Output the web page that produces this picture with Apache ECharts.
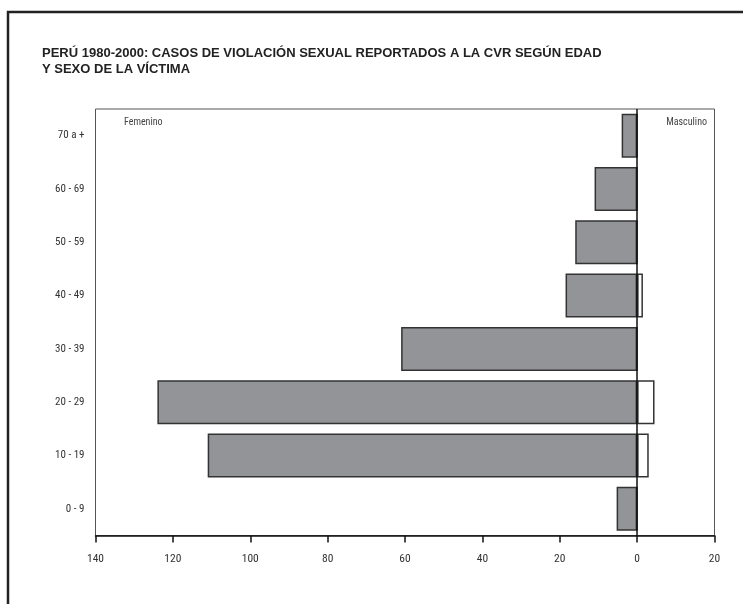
<!DOCTYPE html>
<html>
<head>
<meta charset="utf-8">
<script src="https://cdn.jsdelivr.net/npm/echarts@6/dist/echarts.min.js"></script>
<style>
html,body{margin:0;padding:0;background:#fff;}
#chart{width:743px;height:604px;}
</style>
</head>
<body>
<div id="chart"></div>
<script>
const categories = ['0 - 9', '10 - 19', '20 - 29', '30 - 39', '40 - 49', '50 - 59', '60 - 69', '70 a +'];
const femenino = [5.3, 111, 124, 61, 18.5, 16, 11, 4];
const masculino = [0, 3, 4.5, 0, 1.5, 0, 0, 0];
const xTicks = { min: -140, max: 20, interval: 20 };

const NARROW = '"Liberation Sans Narrow", "Arial Narrow", "Roboto Condensed", sans-serif';
const WIDE = '"Liberation Sans", Arial, sans-serif';
const chart = echarts.init(document.getElementById('chart'));
chart.setOption({
  animation: false,
  backgroundColor: '#fff',
  title: {
    text: 'PERÚ 1980-2000: CASOS DE VIOLACIÓN SEXUAL REPORTADOS A LA CVR SEGÚN EDAD\nY SEXO DE LA VÍCTIMA',
    left: 37, top: 40,
    textStyle: { fontFamily: WIDE, fontWeight: 'bold', fontSize: 13, color: '#222', lineHeight: 16 }
  },
  graphic: [
    { type: 'polyline', shape: { points: [[8, 604], [8, 12], [743, 12]] }, style: { stroke: '#222', lineWidth: 2.5, fill: null } },
    { type: 'text', left: 124, top: 117, style: { text: 'Femenino', fontFamily: NARROW, fontSize: 10, fill: '#444' } },
    { type: 'text', right: 36, top: 117, style: { text: 'Masculino', fontFamily: NARROW, fontSize: 10, fill: '#444' } }
  ],
  grid: { left: 95.5, right: 28.5, top: 109, bottom: 68.5, show: true, borderColor: '#555', borderWidth: 1 },
  xAxis: {
    type: 'value', min: xTicks.min, max: xTicks.max, interval: xTicks.interval,
    splitLine: { show: false },
    axisLine: { show: true, lineStyle: { color: '#111', width: 1.5 } },
    axisTick: { show: true, length: 7, lineStyle: { color: '#111', width: 1.5 } },
    axisLabel: { margin: 18, fontFamily: NARROW, fontSize: 11.5, color: '#333', formatter: v => Math.abs(v) }
  },
  yAxis: {
    type: 'category', data: categories,
    axisLine: { show: false }, axisTick: { show: false },
    axisLabel: { margin: 11, fontFamily: NARROW, fontSize: 11, color: '#333' }
  },
  series: [
    {
      name: 'Femenino', type: 'bar', data: femenino.map(v => -v), barWidth: 44, barGap: '-100%',
      itemStyle: { color: '#939497', borderColor: '#333', borderWidth: 1.5 },
      markLine: { silent: true, symbol: 'none', label: { show: false },
        lineStyle: { color: '#111', width: 1.5, type: 'solid' }, data: [{ xAxis: 0 }] }
    },
    {
      name: 'Masculino', type: 'bar', data: masculino, barWidth: 44, barGap: '-100%',
      itemStyle: { color: '#fff', borderColor: '#333', borderWidth: 1.5 }
    }
  ]
});
</script>
</body>
</html>
